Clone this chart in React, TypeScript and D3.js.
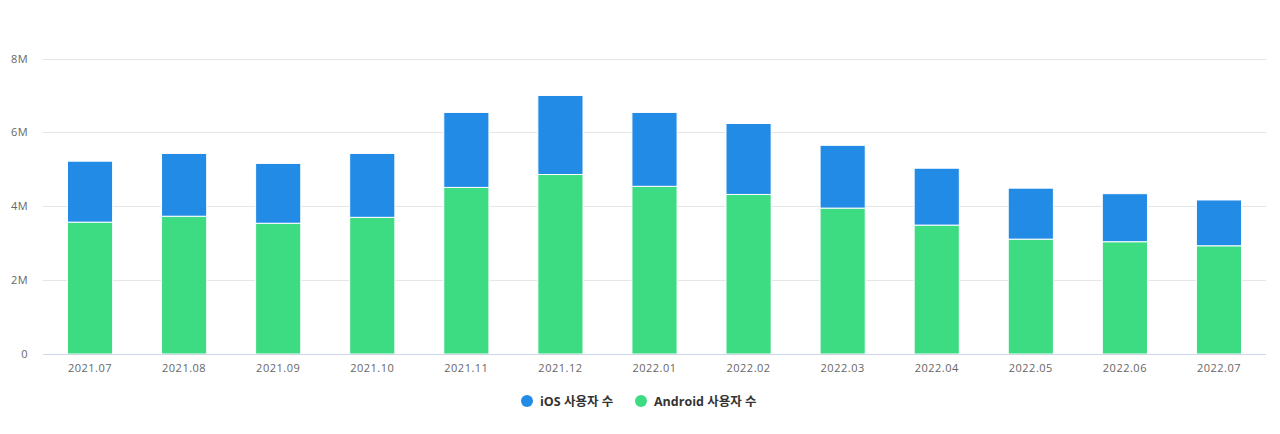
import React, { useRef, useEffect } from 'react';
import * as d3 from 'd3';

const months = [
  '2021.07', '2021.08', '2021.09', '2021.10', '2021.11', '2021.12', '2022.01',
  '2022.02', '2022.03', '2022.04', '2022.05', '2022.06', '2022.07',
];
// values in millions
const androidUsers = [3.57, 3.73, 3.54, 3.70, 4.51, 4.86, 4.54, 4.32, 3.95, 3.49, 3.11, 3.04, 2.93];
const iosUsers = [1.65, 1.70, 1.62, 1.73, 2.03, 2.14, 2.00, 1.92, 1.70, 1.54, 1.38, 1.30, 1.24];
const yTicks = [0, 2, 4, 6, 8];
const seriesNames = ['iOS 사용자 수', 'Android 사용자 수'];

const IOS_COLOR = '#228be6';
const ANDROID_COLOR = '#3ddb82';
const FONT = '"Open Sans", "Noto Sans CJK KR", sans-serif';

const width = 1280;
const height = 434;
const margin = { top: 58.5, right: 14, bottom: 80, left: 43 };

const App: React.FC = () => {
  const ref = useRef<SVGSVGElement>(null);

  useEffect(() => {
    const svg = d3.select(ref.current!);
    svg.selectAll('*').remove();

    const x = d3.scaleBand<string>()
      .domain(months)
      .range([margin.left, width - margin.right])
      .paddingInner(0.52)
      .paddingOuter(0.26);

    const y = d3.scaleLinear()
      .domain([0, 8])
      .range([height - margin.bottom, margin.top]);

    // grid
    svg.append('g')
      .selectAll('line')
      .data(yTicks.filter(t => t > 0))
      .enter().append('line')
      .attr('x1', margin.left)
      .attr('x2', width - margin.right)
      .attr('y1', d => Math.round(y(d)) + 0.5)
      .attr('y2', d => Math.round(y(d)) + 0.5)
      .attr('stroke', '#e6e6e6');

    // y labels
    svg.append('g')
      .selectAll('text')
      .data(yTicks)
      .enter().append('text')
      .attr('x', 28)
      .attr('y', d => y(d) + 4)
      .attr('text-anchor', 'end')
      .attr('font-family', FONT)
      .attr('font-size', 11)
      .attr('letter-spacing', 0.4)
      .attr('fill', '#666')
      .text(d => (d === 0 ? '0' : `${d}M`));

    // bars
    const g = svg.append('g');
    months.forEach((m, i) => {
      const a = androidUsers[i];
      const t = a + iosUsers[i];
      g.append('rect')
        .attr('x', x(m)!)
        .attr('width', x.bandwidth())
        .attr('y', y(a))
        .attr('height', y(0) - y(a))
        .attr('fill', ANDROID_COLOR)
        .attr('stroke', '#fff')
        .attr('stroke-width', 1);
      g.append('rect')
        .attr('x', x(m)!)
        .attr('width', x.bandwidth())
        .attr('y', y(t))
        .attr('height', y(a) - y(t))
        .attr('fill', IOS_COLOR)
        .attr('stroke', '#fff')
        .attr('stroke-width', 1);
    });

    // x axis line
    svg.append('line')
      .attr('x1', margin.left)
      .attr('x2', width - margin.right)
      .attr('y1', y(0) + 0.5)
      .attr('y2', y(0) + 0.5)
      .attr('stroke', '#ccd6eb');

    // x labels
    svg.append('g')
      .selectAll('text')
      .data(months)
      .enter().append('text')
      .attr('x', d => x(d)! + x.bandwidth() / 2)
      .attr('y', 372)
      .attr('text-anchor', 'middle')
      .attr('font-family', FONT)
      .attr('font-size', 11)
      .attr('letter-spacing', 0.5)
      .attr('fill', '#666')
      .text(d => d);

    // legend
    const legend = [
      { name: seriesNames[0], color: IOS_COLOR, cx: 527 },
      { name: seriesNames[1], color: ANDROID_COLOR, cx: 641 },
    ];
    const lg = svg.append('g');
    legend.forEach(l => {
      lg.append('circle')
        .attr('cx', l.cx)
        .attr('cy', 401)
        .attr('r', 6)
        .attr('fill', l.color);
      lg.append('text')
        .attr('x', l.cx + 13)
        .attr('y', 405.5)
        .attr('font-family', FONT)
        .attr('font-size', 12.5)
        .attr('font-weight', 'bold')
        .attr('fill', '#333')
        .text(l.name);
    });
  }, []);

  return (
    <svg
      ref={ref}
      width={width}
      height={height}
      style={{ position: 'absolute', left: 0, top: 0, background: '#fff' }}
    />
  );
};

export default App;
